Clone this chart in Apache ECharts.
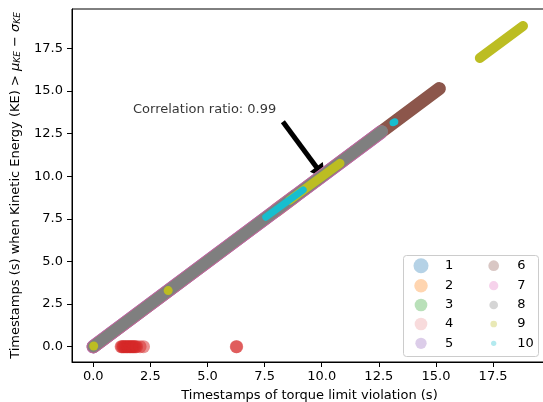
<!DOCTYPE html>
<html>
<head>
<meta charset="utf-8">
<script src="https://cdn.jsdelivr.net/npm/echarts@6/dist/echarts.min.js"></script>
<style>html,body{margin:0;padding:0;background:#fff}#c{width:543px;height:402px}</style>
</head>
<body>
<div id="c"></div>
<script>
// ---- data ----
const names = ['1','2','3','4','5','6','7','8','9','10'];
const colors = ['#1f77b4','#ff7f0e','#2ca02c','#d62728','#9467bd','#8c564b','#e377c2','#7f7f7f','#bcbd22','#17becf'];
const xTicks = [0, 2.5, 5, 7.5, 10, 12.5, 15, 17.5];
const yTicks = [0, 2.5, 5, 7.5, 10, 12.5, 15, 17.5];
// dense runs of points (start / end of each run)
const run1 = [[0.5, 0.5], [7.4, 7.4]];
const run2 = [[8.0, 8.0], [8.8, 8.8]];
const run3 = [[0.9, 0.9], [8.3, 8.3]];
const run5 = [[0, 0], [12.6, 12.6]];
const run6 = [[0, 0], [15.15, 15.15]];
const run7 = [[0, 0], [12.6, 12.6]];
const run8 = [[0, 0], [12.65, 12.65]];
const run9a = [[8.6, 8.6], [10.8, 10.76]];
const run9b = [[16.92, 16.94], [18.81, 18.82]];
const run10 = [[7.55, 7.6], [9.19, 9.2]];
// isolated points
const points4 = [[1.22,0],[1.25,0],[1.3,0],[1.33,0],[1.38,0],[1.42,0],[1.47,0],[1.5,0],[1.55,0],[1.6,0],[1.63,0],[1.68,0],[1.72,0],[1.76,0],[1.8,0],[1.85,0],[1.9,0],[2.05,0],[2.2,0],[6.26,0],[6.28,0]];
const points9 = [[0.02, 0.04], [3.28, 3.29]];
const points10 = [[13.12, 13.14], [13.2, 13.2]];
// annotation
const annotationText = 'Correlation ratio: 0.99';
const annotationAt = [1.72, 13.93];
const arrowTail = [8.3, 13.2];
const arrowHeadCenter = [9.96, 10.2];

// ---- styling ----
const FONT = 'DejaVu Sans';
const FS = 13;
const legendSizes = [15, 13.5, 12.7, 12.7, 11.3, 10.7, 9.3, 8.7, 6.7, 5.3];
const legendCx = [421, 493.7];
const legendCy = [265.7, 285.7, 305, 324, 343.3];
const legendTextX = [445, 517.3];

function rgba(hex, a) {
  const n = parseInt(hex.slice(1), 16);
  return 'rgba(' + (n >> 16) + ',' + ((n >> 8) & 255) + ',' + (n & 255) + ',' + a + ')';
}

let zc = 2;
function band(idx, data, width, opacity) {
  return {
    type: 'line', name: names[idx], data: data, z: zc++,
    symbol: 'none', silent: true,
    lineStyle: { color: colors[idx], width: width, cap: 'round', join: 'round', opacity: opacity == null ? 1 : opacity },
    itemStyle: { color: colors[idx] }
  };
}
function pts(idx, data, size, opacity) {
  return {
    type: 'scatter', name: names[idx], data: data, z: zc++, silent: true,
    symbol: 'circle', symbolSize: size,
    itemStyle: { color: colors[idx], opacity: opacity }
  };
}

const series = [
  band(0, run1, 10),
  band(1, run2, 14, 0.6),
  band(2, run3, 10),
  pts(3, points4, 13, 0.5),
  band(4, run5, 13.5),
  band(5, run6, 13),
  band(6, run7, 13.5, 0.6),
  band(7, run8, 11.5),
  band(8, run9a, 9),
  band(8, run9b, 10),
  pts(8, points9, 9, 1),
  band(9, run10, 7),
  pts(9, points10, 7, 1),
  {
    type: 'scatter', name: 'annotation', data: [annotationAt], z: 40, silent: true,
    symbolSize: 1, itemStyle: { color: 'transparent' },
    label: { show: true, position: 'right', distance: 0, formatter: annotationText,
             color: '#000', fontSize: FS, fontFamily: FONT },
    markLine: {
      silent: true, animation: false,
      symbol: ['none', 'triangle'], symbolSize: [16, 15],
      lineStyle: { color: '#000', width: 5, type: 'solid', cap: 'butt' },
      itemStyle: { color: '#000' },
      label: { show: false },
      emphasis: { disabled: true },
      data: [[{ coord: arrowTail }, { coord: arrowHeadCenter }]]
    }
  }
];

const legends = names.map(function (n, k) {
  const col = k < 5 ? 0 : 1, row = k % 5, s = legendSizes[k];
  const pad = legendTextX[col] - (legendCx[col] + s / 2 + 5);
  return {
    show: true, z: 20, orient: 'vertical', padding: 0, selectedMode: false,
    left: legendCx[col] - s / 2, top: legendCy[row] - Math.max(s, FS) / 2,
    itemWidth: s, itemHeight: s,
    data: [{ name: n, icon: 'circle', itemStyle: { color: rgba(colors[k], 0.33), borderWidth: 0 } }],
    formatter: function (name) { return '{g| }{t|' + name + '}'; },
    textStyle: { rich: { g: { width: pad }, t: { fontSize: FS, color: '#000', fontFamily: FONT } } }
  };
});

const axisCommon = {
  type: 'value',
  axisLine: { show: true, onZero: false, lineStyle: { color: '#000', width: 1 } },
  splitLine: { show: false },
  nameLocation: 'middle',
  nameTextStyle: { color: '#000', fontSize: FS, fontFamily: FONT }
};

const option = {
  animation: false,
  backgroundColor: '#fff',
  textStyle: { fontFamily: FONT },
  grid: { left: 72, top: 9, width: 475, height: 353, show: true, borderColor: '#000', borderWidth: 1,
          backgroundColor: 'transparent', containLabel: false, outerBoundsMode: 'none' },
  xAxis: Object.assign({}, axisCommon, {
    min: -0.93, max: 19.86,
    axisTick: { show: true, length: 5, customValues: xTicks, lineStyle: { color: '#000' } },
    axisLabel: { customValues: xTicks, formatter: function (v) { return v.toFixed(1); }, color: '#000', fontSize: FS, fontFamily: FONT, margin: 8 },
    name: 'Timestamps of torque limit violation (s)', nameGap: 27
  }),
  yAxis: Object.assign({}, axisCommon, {
    min: -0.9, max: 19.82,
    axisTick: { show: true, length: 5, customValues: yTicks, lineStyle: { color: '#000' } },
    axisLabel: { customValues: yTicks, formatter: function (v) { return v.toFixed(1); }, color: '#000', fontSize: FS, fontFamily: FONT, margin: 9 },
    name: 'Timestamps (s) when Kinetic Energy (KE) > {i|μ}{s|KE} − {i|σ}{s|KE}',
    nameGap: 45,
    nameTextStyle: {
      color: '#000', fontSize: FS, fontFamily: FONT, lineHeight: 16,
      rich: {
        i: { fontStyle: 'italic', fontSize: FS, fontFamily: FONT, color: '#000', lineHeight: 16 },
        s: { fontStyle: 'italic', fontSize: 9, fontFamily: FONT, color: '#000', lineHeight: 10, padding: [6, 0, 0, 0] }
      }
    }
  }),
  legend: legends,
  graphic: [{
    type: 'rect', z: 15, left: 403, top: 255,
    shape: { width: 135, height: 101, r: 3 },
    style: { fill: '#fff', stroke: '#cccccc', lineWidth: 1 }
  }],
  series: series
};

const chart = echarts.init(document.getElementById('c'), null, { renderer: 'canvas' });
chart.setOption(option);
</script>
</body>
</html>
